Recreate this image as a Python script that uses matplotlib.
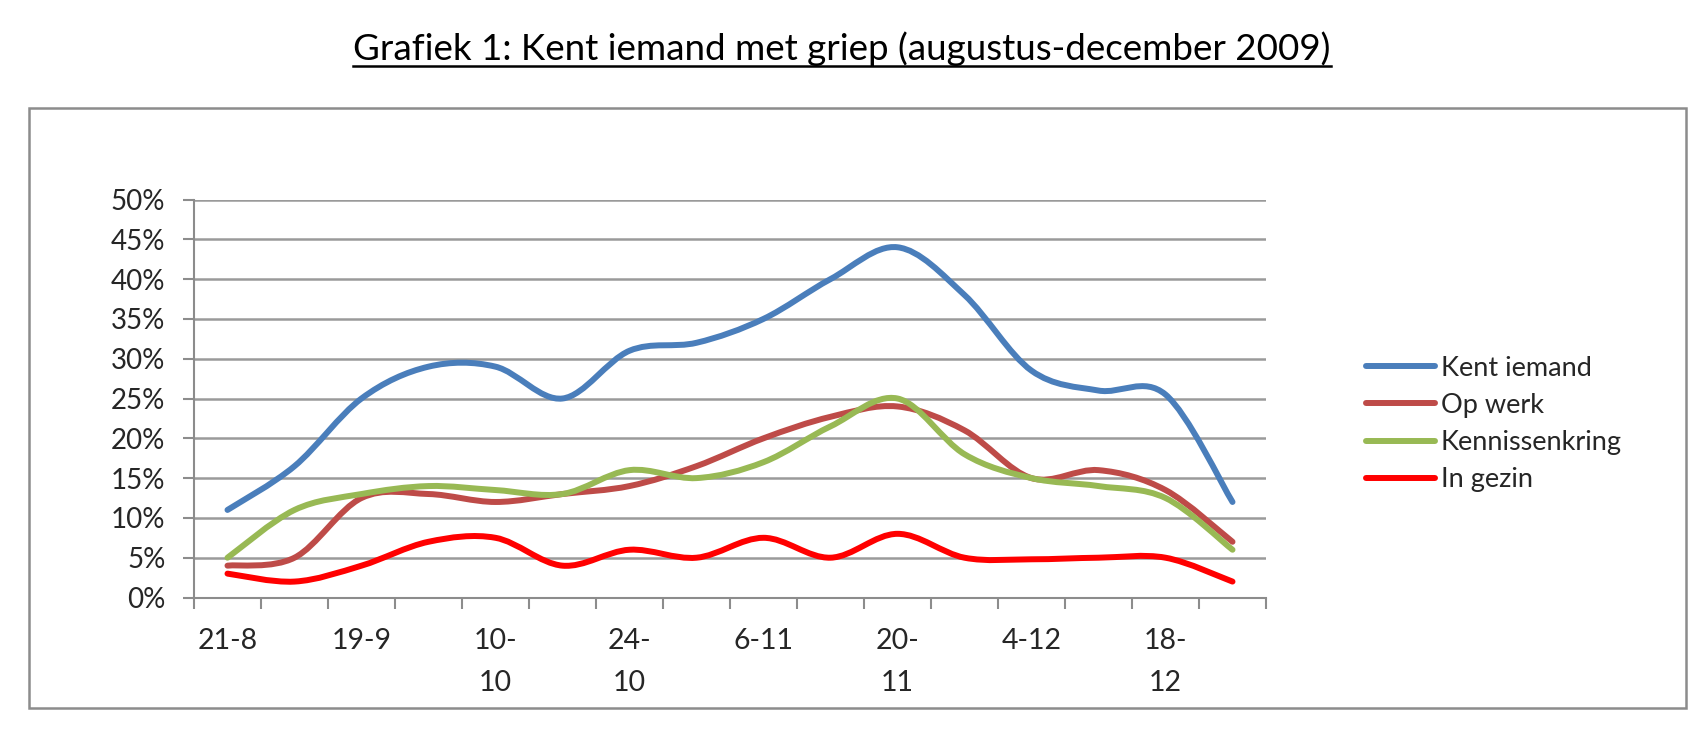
import matplotlib
matplotlib.use("Agg")
import matplotlib.pyplot as plt
from matplotlib.path import Path
from matplotlib.patches import PathPatch, Rectangle
from matplotlib.lines import Line2D
import numpy as np

plt.rcParams['font.family'] = ['Lato', 'DejaVu Sans']

# ---- data ----
dates = ["21-8", "4-9", "19-9", "3-10", "10-\n10", "17-10", "24-\n10", "31-10",
         "6-11", "13-11", "20-\n11", "27-11", "4-12", "11-12", "18-\n12", "25-12"]
kent_iemand = [11, 16.5, 25, 29, 29, 25, 31, 32, 35, 40, 44, 38, 28.5, 26, 25.5, 12]
op_werk = [4, 5, 12.5, 13, 12, 13, 14, 16.5, 20, 22.7, 24, 21, 15, 16, 13.5, 7]
kennissenkring = [5, 11, 13, 14, 13.5, 13, 16, 15, 17, 21.5, 25, 18, 15, 14, 12.5, 6]
in_gezin = [3, 2, 4, 7, 7.5, 4, 6, 5, 7.5, 5, 8, 5, 4.8, 5, 5, 2]
series_names = ["Kent iemand", "Op werk", "Kennissenkring", "In gezin"]
series_colors = ["#4A7EBB", "#BE4B48", "#98B954", "#FF0000"]
y_ticks = [0, 5, 10, 15, 20, 25, 30, 35, 40, 45, 50]
title = "Grafiek 1: Kent iemand met griep (augustus-december 2009)"

W, H = 1702, 734
fig = plt.figure(figsize=(W / 100, H / 100), dpi=100)

# outer chart frame
fig.patches.append(Rectangle((29 / W, 1 - 708 / H), (1686 - 29) / W, (708 - 108) / H,
                             transform=fig.transFigure, fill=False,
                             edgecolor="#8c8c8c", linewidth=1.8))

ax = fig.add_axes([194 / W, 1 - 597.5 / H, (1266 - 194) / W, (597.5 - 199.5) / H])


def smooth_path(xs, ys):
    pts = np.column_stack([xs, ys]).astype(float)
    n = len(pts)
    verts = [pts[0]]
    codes = [Path.MOVETO]
    for i in range(n - 1):
        p0 = pts[i - 1] if i > 0 else pts[i]
        p1 = pts[i]
        p2 = pts[i + 1]
        p3 = pts[i + 2] if i + 2 < n else pts[i + 1]
        c1 = p1 + (p2 - p0) / 6.0
        c2 = p2 - (p3 - p1) / 6.0
        verts += [c1, c2, p2]
        codes += [Path.CURVE4] * 3
    return Path(verts, codes)


x = np.arange(len(dates))
all_series = [kent_iemand, op_werk, kennissenkring, in_gezin]
handles = []
for vals, name, col in zip(all_series, series_names, series_colors):
    ax.add_patch(PathPatch(smooth_path(x, vals), fill=False, edgecolor=col,
                           linewidth=4.3, capstyle="round", joinstyle="round", zorder=3))
    handles.append(Line2D([], [], color=col, linewidth=4.3, solid_capstyle="round", label=name))

ax.set_xlim(-0.5, len(dates) - 0.5)
ax.set_ylim(0, 50)
ax.set_yticks(y_ticks)
ax.set_yticklabels([f"{v}%" for v in y_ticks], fontsize=20, color="#262626")
ax.yaxis.grid(True, color="#9a9a9a", linewidth=1.8)
ax.set_axisbelow(True)
ax.tick_params(axis="y", length=7.6, width=1.5, color="#8c8c8c", pad=13)

ax.set_xticks(x[::2])
ax.set_xticklabels(dates[::2], fontsize=20.5, color="#262626", linespacing=1.74)
ax.set_xticks(np.arange(-0.5, len(dates), 1), minor=True)
ax.tick_params(axis="x", which="major", length=0, pad=22)
ax.tick_params(axis="x", which="minor", length=8, width=1.5, color="#8c8c8c")
for lab in ax.get_xticklabels():
    lab.set_verticalalignment("top")

for s in ["top", "right"]:
    ax.spines[s].set_visible(False)
for s in ["left", "bottom"]:
    ax.spines[s].set_color("#8c8c8c")
    ax.spines[s].set_linewidth(1.5)

leg = fig.legend(handles=handles, loc="center left",
                 bbox_to_anchor=(1355 / W, 1 - 424 / H), frameon=False,
                 fontsize=19.5, handlelength=2.55, handletextpad=0.22,
                 labelspacing=0.45, borderaxespad=0)
for t in leg.get_texts():
    t.set_color("#262626")

ttl = fig.text(842 / W, 1 - 59.5 / H, title, ha="center", va="baseline",
               fontsize=26.5, color="#000000")
fig.canvas.draw()
bb = ttl.get_window_extent()
uy = (H - 66) / H
fig.add_artist(Line2D([bb.x0 / W, bb.x1 / W], [uy, uy], transform=fig.transFigure,
                      color="black", linewidth=1.8))

fig.savefig("out.png", dpi=100, facecolor="white")
